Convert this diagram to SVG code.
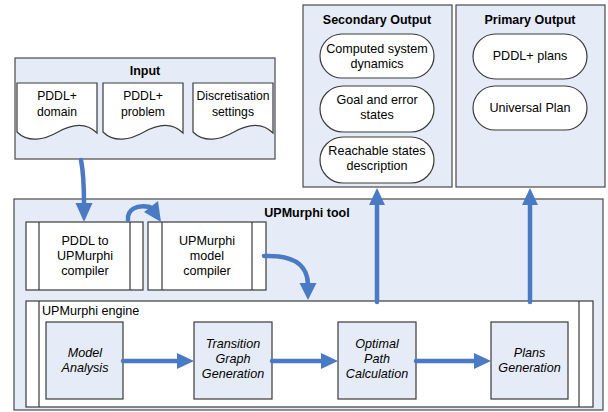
<svg xmlns="http://www.w3.org/2000/svg" width="608" height="412" viewBox="0 0 608 412">
  <style>
    .panel { fill: #E6ECF7; stroke: #4A4A4A; stroke-width: 1.2; }
    .box { fill: #FFFFFF; stroke: #3A3A3A; stroke-width: 1.2; }
    .proc { fill: #E6ECF7; stroke: #3A3A3A; stroke-width: 1.2; }
    .rule { stroke: #3A3A3A; stroke-width: 1.2; fill: none; }
    text { font-family: "Liberation Sans", Arial, sans-serif; font-size: 12.6px; fill: #000; text-anchor: middle; }
    .doc { font-size: 12.2px; }
    .title { font-weight: bold; font-size: 12.5px; }
    .it { font-style: italic; }
    .flow { stroke: #4A7AC4; stroke-width: 4.5; fill: none; stroke-linecap: round; }
    .head { fill: #4A7AC4; }
  </style>

  <!-- Input panel -->
  <g id="input">
    <rect class="panel" x="15" y="58" width="260" height="101"/>
    <text class="title" x="145" y="75">Input</text>
    <g id="doc-domain">
      <path class="box" d="M17,83 H97 V133 C86,122 72,124 58,132 C44,140 28,143 17,132 Z"/>
      <text class="doc" x="57" y="100">PDDL+</text>
      <text class="doc" x="57" y="116">domain</text>
    </g>
    <g id="doc-problem">
      <path class="box" d="M103,83 H183 V133 C172,122 158,124 144,132 C130,140 114,143 103,132 Z"/>
      <text class="doc" x="143" y="100">PDDL+</text>
      <text class="doc" x="143" y="116">problem</text>
    </g>
    <g id="doc-settings">
      <path class="box" d="M193,83 H273 V133 C262,122 248,124 234,132 C220,140 204,143 193,132 Z"/>
      <text class="doc" x="233" y="100">Discretisation</text>
      <text class="doc" x="233" y="116">settings</text>
    </g>
  </g>

  <!-- Secondary output panel -->
  <g id="secondary-output">
    <rect class="panel" x="303" y="5" width="149" height="182"/>
    <text class="title" x="377" y="24">Secondary Output</text>
    <g id="sys-dynamics">
      <rect class="box" x="320" y="34" width="114" height="44" rx="22"/>
      <text x="377" y="53">Computed system</text>
      <text x="377" y="68">dynamics</text>
    </g>
    <g id="goal-error">
      <rect class="box" x="320" y="86" width="114" height="46" rx="23"/>
      <text x="377" y="104">Goal and error</text>
      <text x="377" y="119">states</text>
    </g>
    <g id="reachable">
      <rect class="box" x="320" y="137" width="114" height="46" rx="23"/>
      <text x="377" y="155">Reachable states</text>
      <text x="377" y="170">description</text>
    </g>
  </g>

  <!-- Primary output panel -->
  <g id="primary-output">
    <rect class="panel" x="456" y="5" width="149" height="182"/>
    <text class="title" x="530" y="24">Primary Output</text>
    <g id="pddl-plans">
      <rect class="box" x="473" y="34" width="114" height="45" rx="22.5"/>
      <text x="530" y="60">PDDL+ plans</text>
    </g>
    <g id="universal-plan">
      <rect class="box" x="473" y="86" width="114" height="44" rx="22"/>
      <text x="530" y="112">Universal Plan</text>
    </g>
  </g>

  <!-- UPMurphi tool panel -->
  <g id="upmurphi-tool">
    <rect class="panel" x="14" y="199" width="589" height="211"/>
    <text class="title" x="307" y="217">UPMurphi tool</text>
  </g>

  <g id="pddl-compiler">
    <rect class="box" x="26" y="222" width="117" height="68"/>
    <line class="rule" x1="39" y1="222" x2="39" y2="290"/>
    <line class="rule" x1="130" y1="222" x2="130" y2="290"/>
    <text x="85" y="245">PDDL to</text>
    <text x="85" y="260">UPMurphi</text>
    <text x="85" y="275">compiler</text>
  </g>

  <g id="model-compiler">
    <rect class="box" x="148" y="222" width="118" height="68"/>
    <line class="rule" x1="162" y1="222" x2="162" y2="290"/>
    <line class="rule" x1="252" y1="222" x2="252" y2="290"/>
    <text x="207" y="245">UPMurphi</text>
    <text x="207" y="260">model</text>
    <text x="207" y="275">compiler</text>
  </g>

  <!-- UPMurphi engine -->
  <g id="engine">
    <rect class="box" x="26" y="301" width="567" height="106"/>
    <line class="rule" x1="39" y1="301" x2="39" y2="407"/>
    <line class="rule" x1="579" y1="301" x2="579" y2="407"/>
    <text x="42" y="315" style="text-anchor:start">UPMurphi engine</text>
  </g>

  <g id="model-analysis">
    <rect class="proc" x="46" y="322" width="77" height="77"/>
    <text class="it" x="85" y="357">Model</text>
    <text class="it" x="85" y="372">Analysis</text>
  </g>
  <g id="transition-graph">
    <rect class="proc" x="194" y="322" width="78" height="77"/>
    <text class="it" x="233" y="348">Transition</text>
    <text class="it" x="233" y="363">Graph</text>
    <text class="it" x="233" y="378">Generation</text>
  </g>
  <g id="optimal-path">
    <rect class="proc" x="338" y="322" width="78" height="77"/>
    <text class="it" x="377" y="348">Optimal</text>
    <text class="it" x="377" y="363">Path</text>
    <text class="it" x="377" y="378">Calculation</text>
  </g>
  <g id="plans-generation">
    <rect class="proc" x="491" y="322" width="77" height="77"/>
    <text class="it" x="529.5" y="357">Plans</text>
    <text class="it" x="529.5" y="372">Generation</text>
  </g>

  <!-- Connectors -->
  <g id="connectors">
    <!-- input to PDDL compiler -->
    <path class="flow" d="M81,160 C83,170 84,185 84,204"/>
    <polygon class="head" points="75.5,203 92.5,203 84,222"/>

    <!-- PDDL compiler to model compiler -->
    <path class="flow" d="M128,220 C127,210 136,204 150,207"/>
    <polygon class="head" points="161,222 158,201 144,212"/>

    <!-- model compiler to engine -->
    <path class="flow" d="M264,256 C290,255 307,262 308,284"/>
    <polygon class="head" points="299.5,283 316.5,283 308,300"/>

    <!-- engine to outputs -->
    <line class="flow" x1="377" y1="302" x2="377" y2="204"/>
    <polygon class="head" points="369,205 385,205 377,188"/>
    <line class="flow" x1="530" y1="302" x2="530" y2="204"/>
    <polygon class="head" points="522,205 538,205 530,188"/>

    <!-- engine pipeline -->
    <line class="flow" x1="123" y1="361" x2="178" y2="361"/>
    <polygon class="head" points="177,353 177,369 194,361"/>
    <line class="flow" x1="272" y1="361" x2="322" y2="361"/>
    <polygon class="head" points="321,353 321,369 338,361"/>
    <line class="flow" x1="416" y1="361" x2="475" y2="361"/>
    <polygon class="head" points="474,353 474,369 491,361"/>
  </g>
</svg>
